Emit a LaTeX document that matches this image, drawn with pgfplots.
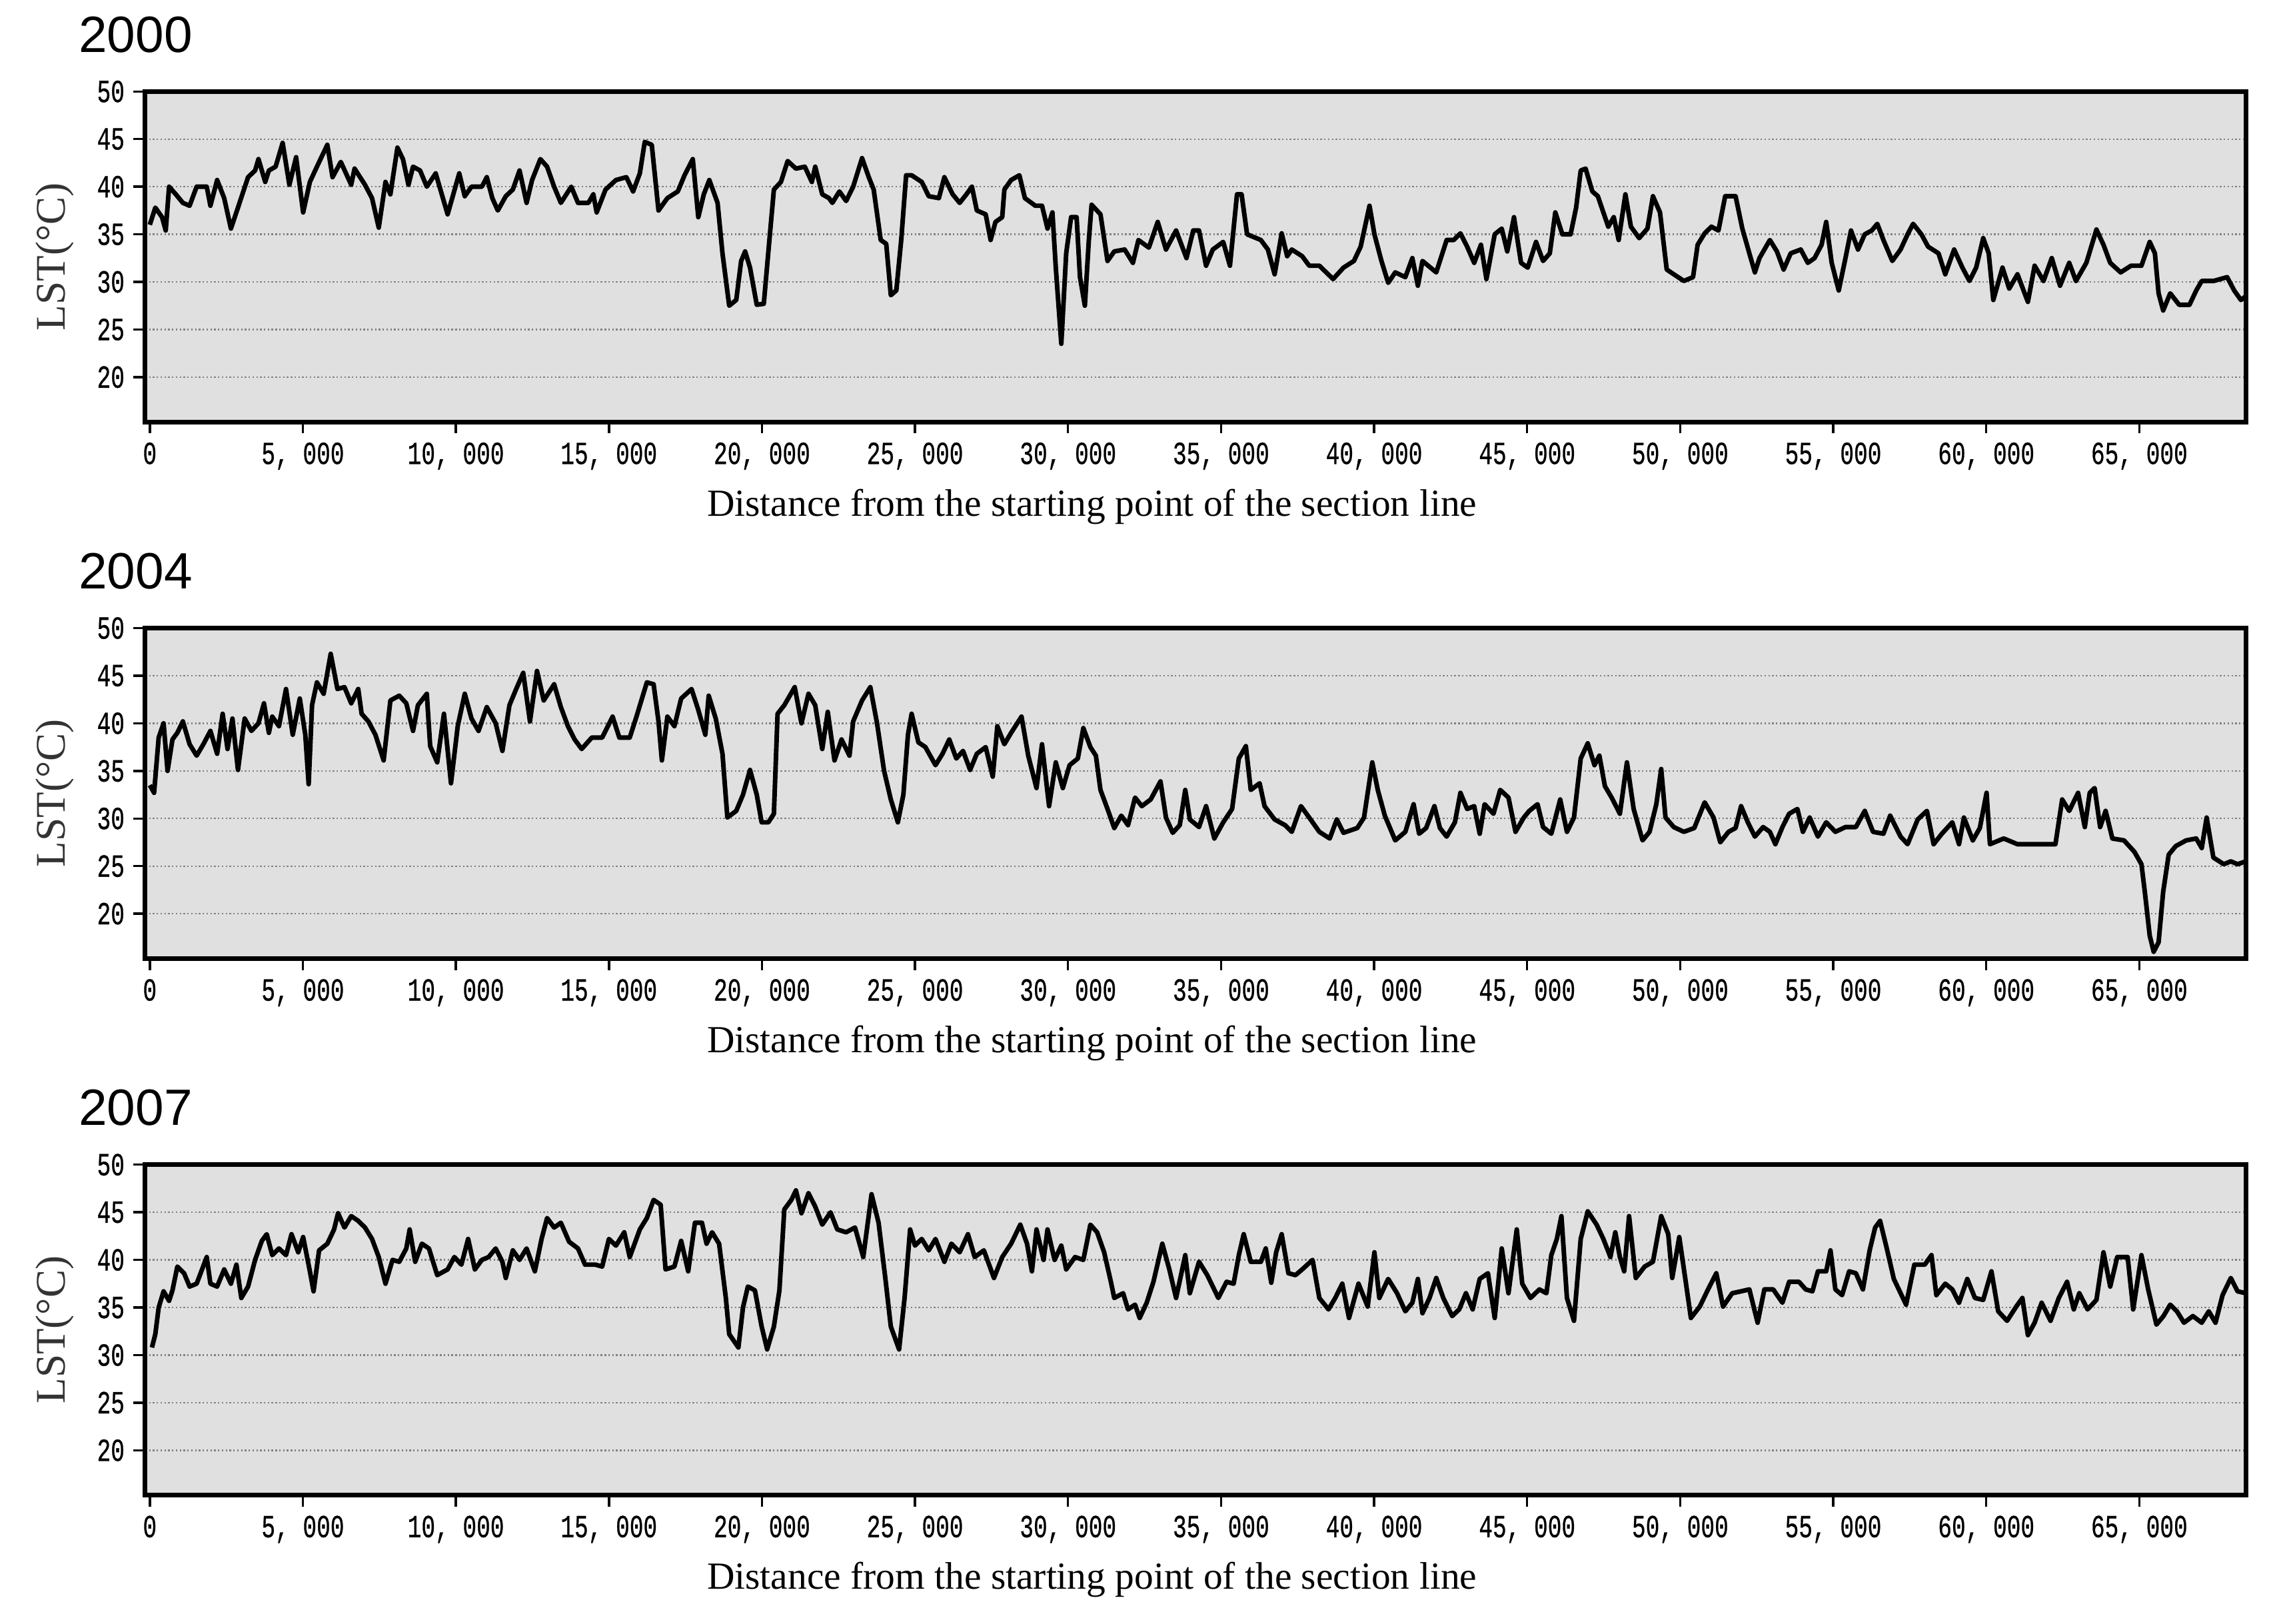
\documentclass[border=0pt]{standalone}
\usepackage{fontspec}
\setmainfont{Liberation Serif}
\newfontfamily\titlefont{Liberation Sans}
\newfontfamily\tickfont[FakeBold=0.8]{Liberation Mono}
\usepackage{graphicx}
\usepackage{pgfplots}
\pgfplotsset{compat=1.18}
\definecolor{panelbg}{RGB}{224,224,224}
\newcommand{\tk}[1]{\scalebox{1}[1.4]{\tickfont\fontsize{9}{9}\selectfont #1}}

\pgfplotsset{
  lstpanel/.style={
    anchor=south west,
    scale only axis, width=28.93cm, height=4.55cm,
    xmin=-150, xmax=68480, ymin=15.3, ymax=50,
    axis background/.style={fill=panelbg},
    axis line style={line width=1.8pt},
    scaled x ticks=false,
    xtick={0,5000,...,65000},
    xticklabels={\tk{0},{\tk{5, 000}},{\tk{10, 000}},{\tk{15, 000}},{\tk{20, 000}},{\tk{25, 000}},{\tk{30, 000}},{\tk{35, 000}},{\tk{40, 000}},{\tk{45, 000}},{\tk{50, 000}},{\tk{55, 000}},{\tk{60, 000}},{\tk{65, 000}}},
    ytick={20,25,...,50},
    yticklabels={\tk{20},\tk{25},\tk{30},\tk{35},\tk{40},\tk{45},\tk{50}},
    tick align=outside, tick pos=left,
    major tick length=0.16cm,
    every tick/.style={black, line width=0.9pt},
    ymajorgrids,
    major grid style={gray, line width=0.6pt, dash pattern=on 0.6pt off 0.9pt},
    xlabel={Distance from the starting point of the section line},
    ylabel={LST(°C)},
    xlabel style={at={(axis description cs:0.4507,-0.257)}, anchor=center, font=\fontsize{15}{15}\selectfont},
    ylabel style={at={(axis description cs:-0.0429,0.5)}, anchor=center, font=\fontsize{16.5}{16.5}\selectfont, text=black!80},
    title style={at={(axis description cs:-0.0359,1)}, anchor=base west, yshift=0.33cm, font=\titlefont\fontsize{20}{20}\selectfont},
  },
  lstline/.style={black, line width=1.8pt, line join=round},
}

\begin{document}
\begin{tikzpicture}
\path[use as bounding box] (0,0) rectangle (31.36cm,22.36cm);

% 2000
\begin{axis}[lstpanel, at={(2cm,16.55cm)}, title={2000}]
\addplot[lstline] coordinates {
(0,36) (180,37.8) (400,36.8) (520,35.4) (630,40) (850,39.2) (1080,38.3) (1300,38) (1530,40) (1860,40) (1980,38) (2200,40.7) (2430,38.8) (2650,35.6) (2880,37.8) (3210,41) (3440,41.7) (3550,42.9) (3770,40.5) (3890,41.7) (4110,42.1) (4340,44.6) (4560,40.2) (4780,43.1) (5010,37.3) (5230,40.5) (5460,42.1) (5800,44.4) (5970,41) (6240,42.6) (6580,40.2) (6690,41.9) (7030,40.2) (7260,38.8) (7480,35.7) (7700,40.5) (7860,39.2) (8090,44.1) (8270,42.9) (8450,40.2) (8600,42.1) (8830,41.7) (9050,40) (9340,41.4) (9730,37.1) (10110,41.4) (10290,39) (10510,40) (10850,40) (11010,41) (11190,38.8) (11370,37.5) (11630,39) (11860,39.7) (12080,41.7) (12310,38.3) (12490,40.7) (12760,42.9) (12980,42.1) (13210,40) (13430,38.3) (13770,40) (13990,38.3) (14330,38.3) (14490,39.2) (14600,37.3) (14890,39.7) (15230,40.7) (15570,41) (15790,39.5) (16010,41.4) (16170,44.7) (16400,44.4) (16620,37.5) (16910,38.8) (17250,39.5) (17470,41.2) (17740,42.9) (17920,36.8) (18100,39.2) (18280,40.7) (18550,38.3) (18710,33) (18930,27.5) (19160,28.1) (19320,32.2) (19450,33.2) (19610,31.5) (19830,27.6) (20060,27.7) (20210,33.2) (20390,39.7) (20620,40.5) (20840,42.7) (21110,41.9) (21400,42.1) (21630,40.5) (21740,42.1) (21970,39.2) (22190,38.8) (22300,38.3) (22530,39.5) (22750,38.5) (22980,40) (23270,43) (23490,41) (23650,39.7) (23880,34.4) (24060,34) (24210,28.6) (24390,29.1) (24550,34.4) (24710,41.2) (24890,41.2) (25220,40.5) (25450,39) (25780,38.8) (25960,41) (26230,39.2) (26460,38.3) (26680,39.2) (26860,40) (27020,37.5) (27310,37.1) (27470,34.4) (27630,36.3) (27850,36.8) (27920,39.7) (28140,40.7) (28410,41.2) (28590,38.8) (28930,38) (29150,38) (29330,35.6) (29490,37.3) (29600,31.5) (29780,23.5) (29940,33) (30100,36.8) (30280,36.8) (30390,30.5) (30550,27.5) (30680,34.4) (30770,38.1) (31060,37.1) (31290,32.2) (31510,33.2) (31850,33.4) (32120,32) (32300,34.4) (32640,33.6) (32930,36.3) (33200,33.4) (33530,35.4) (33870,32.5) (34090,35.4)
(34280,35.4) (34510,31.7) (34730,33.4) (35070,34.2) (35290,31.7) (35520,39.2) (35670,39.2) (35850,35) (36300,34.4) (36530,33.4) (36750,30.8) (36980,35.1) (37160,32.7) (37310,33.4) (37650,32.7) (37880,31.7) (38210,31.7) (38660,30.3) (39000,31.5) (39340,32.2) (39560,33.7) (39850,38) (40010,35) (40240,32.2) (40460,29.9) (40690,31) (41020,30.5) (41250,32.5) (41430,29.6) (41580,32.2) (42030,31) (42370,34.4) (42600,34.4) (42820,35.1) (43040,33.7) (43270,32) (43490,33.9) (43670,30.3) (43940,35) (44170,35.6) (44350,33.2) (44570,36.8) (44800,32) (45020,31.5) (45290,34.2) (45520,32.2) (45740,33) (45920,37.3) (46150,35) (46420,35) (46600,37.8) (46750,41.7) (46910,41.9) (47130,39.5) (47310,39) (47490,37.3) (47650,35.8) (47830,36.8) (47990,34.4) (48210,39.2) (48390,35.8) (48660,34.6) (48930,35.6) (49110,39) (49340,37.3) (49560,31.3) (49790,30.8) (50120,30.1) (50420,30.5) (50570,33.9) (50800,35.1) (51020,35.8) (51250,35.4) (51470,39) (51810,39) (52030,35.6) (52260,33) (52440,31) (52590,32.5) (52930,34.4) (53160,33.2) (53380,31.3) (53610,33) (53940,33.4) (54170,32) (54390,32.5) (54620,33.9) (54770,36.3) (54950,32) (55180,29.1) (55400,32.5) (55580,35.4) (55810,33.4) (56030,35) (56260,35.4) (56440,36.1) (56640,34.4) (56930,32.2) (57200,33.4) (57430,35) (57610,36.1) (57880,35) (58100,33.7) (58440,33) (58660,30.8) (58950,33.4) (59220,31.5) (59450,30.1) (59670,31.5) (59900,34.6) (60080,33) (60230,28.1) (60530,31.5) (60750,29.3) (61020,30.8) (61360,27.9) (61580,31.7) (61870,30.1) (62140,32.5) (62410,29.6) (62710,32) (62930,30.1) (63270,32) (63600,35.5) (63830,33.9) (64050,32) (64390,31) (64730,31.7) (65070,31.7) (65340,34.2) (65510,33) (65630,28.8) (65780,27) (66010,28.8) (66300,27.6) (66640,27.6) (66860,29.1) (67040,30.1) (67430,30.1) (67650,30.3) (67870,30.5) (68100,29.1) (68320,28.1) (68480,28.5)
};
\end{axis}

% 2004
\begin{axis}[lstpanel, at={(2cm,9.16cm)}, title={2004}]
\addplot[lstline] coordinates {
(0,33.5) (140,32.7) (290,38.5) (450,40) (580,35) (740,38.3) (900,39) (1080,40.2) (1300,37.8) (1530,36.6) (1750,37.8) (1980,39.2) (2200,36.8) (2380,41) (2540,37.3) (2700,40.5) (2880,35.1) (3100,40.5) (3320,39.2) (3550,40) (3730,42.1) (3890,39) (4000,40.7) (4220,39.7) (4450,43.6) (4670,38.8) (4900,42.6) (5080,38.8) (5190,33.6) (5300,41.9) (5460,44.3) (5680,43.1) (5910,47.3) (6130,43.6) (6360,43.8) (6580,42.1) (6810,43.6) (6920,41) (7140,40.2) (7370,38.8) (7640,36.1) (7860,42.4) (8150,42.9) (8380,42.1) (8600,39.2) (8760,41.9) (9050,43.1) (9160,37.6) (9390,35.9) (9610,41) (9840,33.7) (10060,39.7) (10290,43.1) (10510,40.5) (10740,39.2) (11010,41.7) (11300,40) (11520,37.1) (11750,41.9) (11970,43.6) (12200,45.3) (12420,40.2) (12650,45.5) (12870,42.4) (13210,44.1) (13430,41.7) (13660,39.7) (13880,38.3) (14110,37.3) (14440,38.5) (14780,38.5) (15120,40.7) (15340,38.5) (15680,38.5) (15900,40.7) (16240,44.3) (16460,44.1) (16620,40.2) (16730,36.1) (16910,40.7) (17140,39.7) (17360,42.6) (17700,43.6) (17920,41.4) (18150,38.8) (18260,42.9) (18490,40.5) (18710,36.8) (18870,30.1) (19160,30.8) (19380,32.5) (19610,35.1) (19830,32.5) (19990,29.6) (20210,29.6) (20390,30.5) (20510,41) (20730,41.9) (21070,43.8) (21290,40) (21520,43.1) (21740,41.9) (21970,37.3) (22150,41.2) (22370,36.1) (22600,38.3) (22860,36.6) (22980,40.2) (23270,42.4) (23540,43.8) (23760,40) (23990,35) (24210,32) (24440,29.6) (24620,32.5) (24770,38.8) (24890,41) (25110,38) (25340,37.5) (25670,35.6) (25900,36.8) (26120,38.3) (26350,36.3) (26570,37.1) (26800,35.1) (27020,36.8) (27310,37.5) (27540,34.4) (27690,39.7) (27920,37.8) (28140,39) (28480,40.7) (28700,36.6) (28970,33.2) (29150,37.8) (29380,31.3) (29600,35.9) (29830,33.2) (30050,35.6) (30320,36.3) (30500,39.5) (30730,37.5) (30910,36.6) (31060,33) (31290,31) (31510,29) (31740,30.3) (31960,29.3) (32190,32.2) (32410,31.3) (32700,32) (33020,33.9) (33200,30.1) (33420,28.5) (33650,29.3) (33830,33) (33980,29.9)
(34280,29.1) (34510,31.3) (34780,27.9) (35070,29.6) (35360,31) (35580,36.3) (35810,37.6) (35970,33) (36260,33.7) (36420,31.3) (36750,29.9) (37090,29.3) (37310,28.6) (37610,31.3) (37880,30.1) (38210,28.6) (38550,27.9) (38780,29.9) (39000,28.5) (39450,29) (39670,30.1) (39940,35.9) (40120,33) (40350,30.3) (40690,27.7) (41020,28.6) (41290,31.5) (41470,28.4) (41700,29) (41970,31.3) (42150,29) (42370,28.1) (42640,29.6) (42820,32.7) (43040,31) (43270,31.3) (43450,28.4) (43610,31.5) (43900,30.5) (44120,33) (44390,32.2) (44620,28.6) (44890,30.1) (45070,30.8) (45340,31.5) (45520,29.1) (45790,28.4) (46080,32) (46300,28.6) (46530,30.1) (46750,36.3) (46980,37.9) (47200,35.6) (47360,36.6) (47540,33.4) (47760,32.2) (48030,30.5) (48260,35.9) (48480,31) (48770,27.7) (49000,28.6) (49220,31.5) (49380,35.2) (49520,30.1) (49790,29.1) (50120,28.6) (50460,29) (50800,31.7) (51090,30.1) (51310,27.5) (51580,28.6) (51810,29) (51990,31.3) (52210,29.6) (52440,28.1) (52710,29.1) (52930,28.6) (53110,27.3) (53340,29.1) (53560,30.5) (53830,31) (54010,28.6) (54230,30.1) (54500,28.1) (54770,29.6) (55070,28.6) (55400,29.1) (55740,29.1) (56030,30.8) (56300,28.6) (56640,28.4) (56860,30.3) (57200,28.1) (57430,27.3) (57760,29.9) (58060,30.8) (58280,27.3) (58550,28.4) (58890,29.6) (59110,27.3) (59270,30.1) (59560,27.7) (59790,29) (60010,32.7) (60120,27.3) (60570,27.9) (61020,27.3) (61470,27.3) (61920,27.3) (62260,27.3) (62480,32) (62710,30.8) (63000,32.7) (63220,29.1) (63380,32.7) (63540,33.2) (63720,29.1) (63900,30.8) (64120,27.9) (64500,27.7) (64840,26.5) (65070,25.2) (65180,22.3) (65340,17.7) (65470,16) (65630,17) (65780,22.3) (65960,26.2) (66190,27.1) (66530,27.7) (66860,27.9) (67040,26.9) (67200,30.1) (67420,25.9) (67760,25.2) (67990,25.5) (68210,25.2) (68480,25.5)
};
\end{axis}

% 2007
\begin{axis}[lstpanel, at={(2cm,1.77cm)}, title={2007}]
\addplot[lstline] coordinates {
(70,30.8) (180,32.2) (290,35) (450,36.7) (630,35.7) (740,36.8) (900,39.3) (1120,38.6) (1300,37.2) (1530,37.5) (1860,40.3) (1980,37.5) (2200,37.2) (2430,39) (2650,37.5) (2830,39.5) (2990,36) (3210,37.2) (3440,40) (3660,42) (3820,42.7) (4000,40.5) (4220,41.2) (4450,40.5) (4630,42.7) (4850,40.8) (5010,42.4) (5230,38.8) (5350,36.7) (5530,41) (5800,41.7) (6020,43.2) (6150,44.9) (6360,43.4) (6580,44.6) (6810,44.1) (7030,43.4) (7260,42.2) (7480,40.3) (7700,37.5) (7930,40) (8150,39.8) (8380,41.2) (8490,43.2) (8670,39.8) (8890,41.7) (9120,41.2) (9390,38.4) (9730,39) (9950,40.3) (10180,39.5) (10400,42.2) (10620,39) (10850,40) (11070,40.3) (11300,41.2) (11520,39.8) (11630,38.1) (11860,41) (12080,40) (12310,41.2) (12580,38.8) (12800,42.2) (12980,44.4) (13210,43.4) (13430,43.9) (13700,41.9) (13990,41.2) (14220,39.5) (14560,39.5) (14780,39.3) (15000,42.2) (15230,41.5) (15500,42.9) (15680,40.3) (16010,43.2) (16240,44.4) (16460,46.3) (16690,45.8) (16850,39) (17140,39.3) (17360,42) (17590,38.8) (17810,43.9) (18040,43.9) (18190,41.7) (18370,42.9) (18600,41.7) (18820,36) (18930,32.2) (19230,30.8) (19380,35) (19540,37.2) (19770,36.8) (19990,33) (20170,30.6) (20390,33) (20570,36.8) (20730,45.3) (20960,46.3) (21110,47.3) (21290,44.9) (21520,47) (21740,45.6) (21970,43.7) (22240,45) (22460,43.2) (22750,42.9) (23040,43.4) (23310,40.3) (23580,46.9) (23810,43.9) (24030,38.1) (24210,33) (24480,30.6) (24660,36) (24840,43.2) (25000,41.5) (25220,42.2) (25450,41) (25670,42.2) (25960,39.8) (26190,41.7) (26460,40.8) (26730,42.7) (26950,40.3) (27250,41) (27580,38.1) (27850,40.3) (28140,41.7) (28440,43.7) (28660,41.7) (28820,38.8) (28970,43.2) (29200,40) (29330,43.2) (29560,40) (29780,41.5) (29940,39) (30230,40.3) (30500,40) (30730,43.7) (30950,42.9) (31180,40.8) (31400,37.7) (31510,36) (31800,36.5) (31960,34.8) (32190,35.3) (32340,33.9) (32570,35.5) (32790,37.7) (33080,41.7) (33310,39) (33530,36) (33830,40.5) (33980,36.5)
(34280,39.8) (34550,38.4) (34910,36) (35180,37.7) (35410,37.5) (35580,40.5) (35740,42.7) (35970,39.8) (36300,39.8) (36460,41.2) (36640,37.6) (36800,40.8) (36980,42.7) (37200,38.6) (37430,38.4) (37650,39) (37990,40) (38210,36) (38510,34.8) (38730,36) (38960,37.5) (39180,33.9) (39490,37.5) (39790,35.1) (40010,40.8) (40170,36) (40460,38) (40750,36.5) (41020,34.6) (41250,35.5) (41430,38) (41580,34.4) (41810,36) (42030,38.1) (42260,36) (42550,34.1) (42780,34.8) (43000,36.5) (43220,34.8) (43450,38) (43720,38.6) (43940,33.9) (44170,41.2) (44390,36.5) (44660,43.2) (44840,37.5) (45110,36) (45400,36.9) (45630,36.5) (45790,40.5) (45970,42.2) (46120,44.6) (46300,36) (46530,33.6) (46750,42.2) (46980,45.1) (47270,43.7) (47490,42.2) (47720,40.3) (47880,42.9) (48030,40.3) (48170,38.8) (48330,44.6) (48550,38.1) (48840,39.3) (49110,39.8) (49380,44.6) (49610,42.7) (49740,38.1) (49970,42.4) (50190,37.5) (50350,33.9) (50640,35.1) (50910,36.9) (51180,38.6) (51400,35.1) (51700,36.5) (51990,36.7) (52260,36.9) (52530,33.4) (52750,36.9) (53040,36.9) (53340,35.5) (53560,37.7) (53880,37.7) (54100,36.9) (54320,36.7) (54500,38.8) (54770,38.8) (54910,41) (55070,36.9) (55290,36.3) (55520,38.8) (55740,38.6) (55970,36.9) (56190,41) (56370,43.4) (56530,44.1) (56750,41.2) (56980,38) (57380,35.3) (57650,39.5) (57990,39.5) (58210,40.5) (58370,36.3) (58660,37.5) (58890,36.9) (59110,35.5) (59380,38) (59630,36) (59900,35.8) (60170,38.8) (60390,34.6) (60680,33.6) (60980,35.1) (61180,36) (61360,32.1) (61580,33.4) (61810,35.5) (62100,33.6) (62370,36) (62640,37.7) (62860,34.8) (63040,36.5) (63310,34.8) (63600,35.8) (63830,40.8) (64050,37.2) (64280,40.3) (64620,40.3) (64800,34.8) (65070,40.5) (65290,36.9) (65560,33.2) (65790,34.1) (66010,35.3) (66230,34.6) (66460,33.4) (66750,34.1) (67040,33.4) (67270,34.6) (67490,33.4) (67720,36.3) (67990,38.1) (68210,36.7) (68480,36.5)
};
\end{axis}
\end{tikzpicture}
\end{document}
